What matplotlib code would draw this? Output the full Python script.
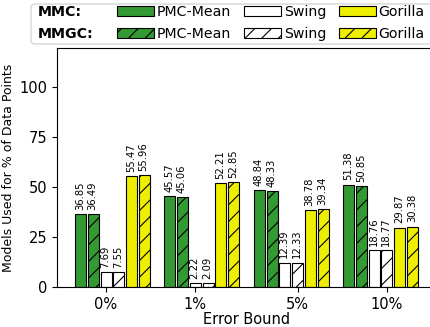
import numpy as np
import matplotlib
matplotlib.use('Agg')
import matplotlib.pyplot as plt
from matplotlib.patches import Patch, FancyBboxPatch

# data
error_bounds = ['0%', '1%', '5%', '10%']
pmc_mmc = [36.85, 45.57, 48.84, 51.38]
pmc_mmgc = [36.49, 45.06, 48.33, 50.85]
swing_mmc = [7.69, 2.22, 12.39, 18.76]
swing_mmgc = [7.55, 2.09, 12.33, 18.77]
gorilla_mmc = [55.47, 52.21, 38.78, 29.87]
gorilla_mmgc = [55.96, 52.85, 39.34, 30.38]

GREEN = '#339933'
YELLOW = '#eeee00'

plt.rcParams['hatch.linewidth'] = 0.8
plt.rcParams['font.family'] = ['DejaVu Sans']

fig = plt.figure(figsize=(4.31, 3.27), dpi=100)
ax = fig.add_axes([0.1323, 0.1214, 0.881, 0.7333])

x = np.arange(len(error_bounds))
step = 1 / 7
width = 0.123

series = [
    (pmc_mmc, GREEN, ''),
    (pmc_mmgc, GREEN, '//'),
    (swing_mmc, 'white', ''),
    (swing_mmgc, 'white', '//'),
    (gorilla_mmc, YELLOW, ''),
    (gorilla_mmgc, YELLOW, '//'),
]

for i, (vals, col, hatch) in enumerate(series):
    pos = x + (i - 2) * step
    bars = ax.bar(pos, vals, width, color=col, edgecolor='black',
                  linewidth=0.8, hatch=hatch)
    for b, v in zip(bars, vals):
        ax.annotate(f'{v:.2f}', (b.get_x() + b.get_width() / 2, v),
                    xytext=(-0.5, 3), textcoords='offset points',
                    ha='center', va='bottom', rotation=90, fontsize=7.2)

# ticks sit a bit oddly in the original
tick_pos = x + np.array([0, 0, 1, 1]) * step
ax.set_xticks(tick_pos)
ax.set_xticklabels(error_bounds, fontsize=10.5)
ax.set_yticks([0, 25, 50, 75, 100])
ax.tick_params(axis='y', labelsize=10.5)
ax.set_xlim(-0.548, 3.7)
ax.set_ylim(0, 120)
ax.set_xlabel('Error Bound', fontsize=10.5, labelpad=0)
ax.set_ylabel('Models Used for % of Data Points', fontsize=9, labelpad=3)

# legend
handles = [
    Patch(facecolor=GREEN, edgecolor='black', linewidth=0.8),
    Patch(facecolor=GREEN, edgecolor='black', linewidth=0.8, hatch='//'),
    Patch(facecolor='white', edgecolor='black', linewidth=0.8),
    Patch(facecolor='white', edgecolor='black', linewidth=0.8, hatch='//'),
    Patch(facecolor=YELLOW, edgecolor='black', linewidth=0.8),
    Patch(facecolor=YELLOW, edgecolor='black', linewidth=0.8, hatch='//'),
]
labels = ['PMC-Mean', 'PMC-Mean', 'Swing', 'Swing', 'Gorilla', 'Gorilla']
fig.legend(handles, labels, ncol=3, frameon=False, fontsize=10.2,
           loc='upper left', bbox_to_anchor=(108 / 431, 1 + 4 / 327),
           borderpad=0.15, handlelength=2.6, handleheight=0.7,
           handletextpad=0.2, columnspacing=0.9, labelspacing=0.55)

frame = FancyBboxPatch((31 / 431, 1 - 44 / 327), 420 / 431, 40 / 327,
                       boxstyle='round,pad=0,rounding_size=0.01',
                       transform=fig.transFigure, facecolor='white',
                       edgecolor='#cccccc', linewidth=0.8, zorder=0)
fig.patches.append(frame)
fig.text(38 / 431, 1 - 12 / 327, 'MMC:', fontsize=10.2, fontweight='bold',
         va='center')
fig.text(38 / 431, 1 - 33.5 / 327, 'MMGC:', fontsize=10.2, fontweight='bold',
         va='center')

fig.savefig('out.png', dpi=100)
